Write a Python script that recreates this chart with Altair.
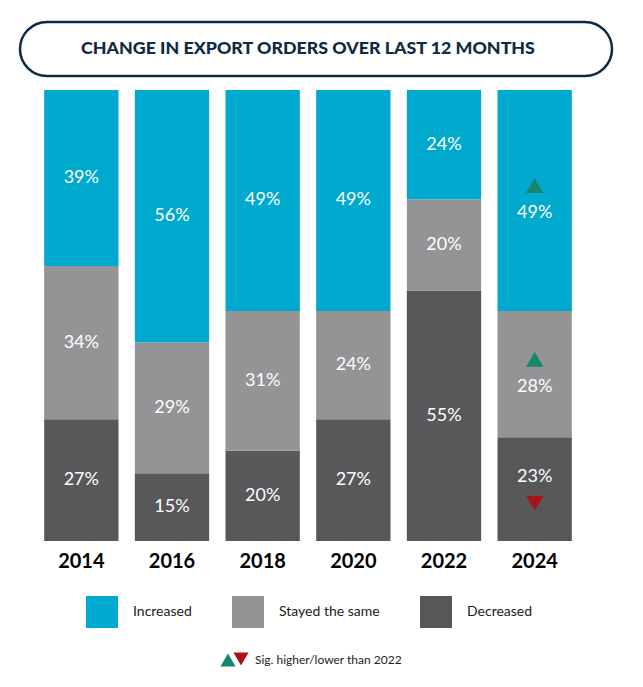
import altair as alt
import pandas as pd

years = ["2014", "2016", "2018", "2020", "2022", "2024"]
categories = ["Increased", "Stayed the same", "Decreased"]
increased = [39, 56, 49, 49, 24, 49]
stayed = [34, 29, 31, 24, 20, 28]
decreased = [27, 15, 20, 27, 55, 23]
# significance vs 2022 ("up" = sig. higher, "down" = sig. lower)
sig_increased = ["", "", "", "", "", "up"]
sig_stayed = ["", "", "", "", "", "up"]
sig_decreased = ["", "", "", "", "", "down"]

colors = ["#00A9CE", "#949497", "#58585B"]
title_text = "CHANGE IN EXPORT ORDERS OVER LAST 12 MONTHS"
footnote_text = "Sig. higher/lower than 2022"

rows = []
for i, yr in enumerate(years):
    vals = {"Increased": increased[i], "Stayed the same": stayed[i], "Decreased": decreased[i]}
    sigs = {"Increased": sig_increased[i], "Stayed the same": sig_stayed[i], "Decreased": sig_decreased[i]}
    total = sum(vals.values())
    cum = 0
    for cat in ["Decreased", "Stayed the same", "Increased"]:
        v = vals[cat]
        y0 = cum / total
        y1 = (cum + v) / total
        cum += v
        rows.append({"year": yr, "category": cat, "value": v, "label": f"{v}%",
                     "y0": y0, "y1": y1, "mid": (y0 + y1) / 2, "sig": sigs[cat]})
df = pd.DataFrame(rows)

W, H = 544, 451
FONT = "Lato"

x_enc = alt.X("year:N", sort=years,
              scale=alt.Scale(paddingInner=0.18, paddingOuter=0.09),
              axis=alt.Axis(title=None, labelAngle=0, labelFontSize=20, labelFontWeight="bold",
                            labelColor="#000000", labelFont=FONT, domain=False, ticks=False,
                            labelPadding=10))
y_scale = alt.Scale(domain=[0, 1])

base = alt.Chart(df)

bars = base.mark_bar().encode(
    x=x_enc,
    y=alt.Y("y0:Q", scale=y_scale, axis=None),
    y2="y1:Q",
    color=alt.Color("category:N",
                    scale=alt.Scale(domain=categories, range=colors),
                    legend=alt.Legend(title=None, orient="none", legendX=50, legendY=506,
                                      direction="horizontal", symbolType="square",
                                      symbolSize=1024, symbolStrokeWidth=0, symbolOpacity=1,
                                      labelFontSize=14, labelFont=FONT, labelColor="#222222",
                                      labelOffset=15, columnPadding=40, padding=0)),
)

txt_kw = dict(color="white", fontSize=18, font=FONT, baseline="middle", align="center")
labels_plain = base.transform_filter("datum.sig == ''").mark_text(**txt_kw).encode(
    x=alt.X("year:N", sort=years), y=alt.Y("mid:Q", scale=y_scale), text="label:N")
labels_up = base.transform_filter("datum.sig == 'up'").mark_text(dy=13, **txt_kw).encode(
    x=alt.X("year:N", sort=years), y=alt.Y("mid:Q", scale=y_scale), text="label:N")
labels_down = base.transform_filter("datum.sig == 'down'").mark_text(dy=-12, **txt_kw).encode(
    x=alt.X("year:N", sort=years), y=alt.Y("mid:Q", scale=y_scale), text="label:N")

tri_up = base.transform_filter("datum.sig == 'up'").mark_point(
    shape="triangle-up", filled=True, color="#15876C", opacity=1, size=300).encode(
    x=alt.X("year:N", sort=years), y=alt.Y("mid:Q", scale=y_scale), yOffset=alt.value(-15))
tri_down = base.transform_filter("datum.sig == 'down'").mark_point(
    shape="triangle-down", filled=True, color="#A8141C", opacity=1, size=300).encode(
    x=alt.X("year:N", sort=years), y=alt.Y("mid:Q", scale=y_scale), yOffset=alt.value(14))

one = pd.DataFrame({"k": [0]})
pill = alt.Chart(one).mark_rect(cornerRadius=27, fill="white", fillOpacity=0,
                                stroke="#0E2A44", strokeWidth=2.5).encode(
    x=alt.value(-16), x2=alt.value(576), y=alt.value(-68), y2=alt.value(-14))
title = alt.Chart(one).mark_text(fontSize=17.8, fontWeight=900, font=FONT, color="#0E2A44",
                                 align="center", baseline="middle").encode(
    x=alt.value(272), y=alt.value(-41), text=alt.value(title_text))

foot_up = alt.Chart(one).mark_point(shape="triangle-up", filled=True, color="#15876C",
                                    opacity=1, size=230).encode(
    x=alt.value(192), y=alt.value(570))
foot_down = alt.Chart(one).mark_point(shape="triangle-down", filled=True, color="#A8141C",
                                      opacity=1, size=230).encode(
    x=alt.value(205), y=alt.value(569))
foot_text = alt.Chart(one).mark_text(fontSize=12, font=FONT, color="#222222", align="left",
                                     baseline="middle").encode(
    x=alt.value(219), y=alt.value(570), text=alt.value(footnote_text))

chart = alt.layer(bars, labels_plain, labels_up, labels_down, tri_up, tri_down,
                  pill, title, foot_up, foot_down, foot_text).properties(
    width=W, height=H,
    autosize=alt.AutoSizeParams(type="none"),
    padding={"left": 28, "top": 82, "right": 55, "bottom": 138},
).configure_view(stroke=None)

chart.save("out.html", embed_options={"renderer": "svg", "actions": False})
